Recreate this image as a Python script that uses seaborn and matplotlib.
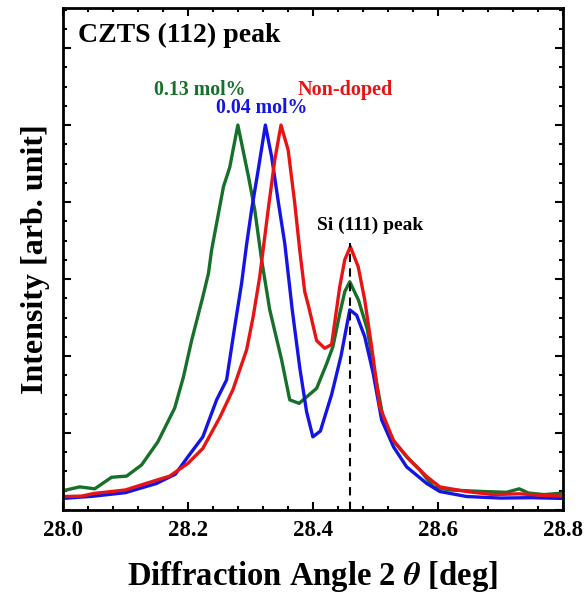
import numpy as np
import pandas as pd
import matplotlib
matplotlib.use("Agg")
import matplotlib.pyplot as plt
from matplotlib.ticker import MultipleLocator
import seaborn as sns

# values (normalised intensity)
x_013 = [28.000, 28.027, 28.051, 28.078, 28.102, 28.126, 28.152, 28.179, 28.193, 28.206,
         28.224, 28.233, 28.238, 28.257, 28.267, 28.280, 28.297, 28.307, 28.318, 28.331,
         28.350, 28.363, 28.378, 28.406, 28.422, 28.432, 28.443, 28.451, 28.459, 28.473,
         28.487, 28.499, 28.513, 28.529, 28.550, 28.571, 28.593, 28.619, 28.672, 28.710,
         28.730, 28.745, 28.770, 28.800]
y_013 = [0.050, 0.060, 0.055, 0.085, 0.088, 0.117, 0.177, 0.265, 0.346, 0.440,
         0.554, 0.615, 0.675, 0.840, 0.890, 1.000, 0.866, 0.780, 0.650, 0.520,
         0.390, 0.286, 0.277, 0.316, 0.380, 0.424, 0.510, 0.567, 0.593, 0.545,
         0.470, 0.355, 0.234, 0.180, 0.138, 0.104, 0.060, 0.052, 0.048, 0.046,
         0.055, 0.044, 0.040, 0.044]

x_004 = [28.000, 28.050, 28.100, 28.150, 28.180, 28.200, 28.224, 28.246, 28.262, 28.275,
         28.286, 28.294, 28.302, 28.3125, 28.324, 28.334, 28.345, 28.355, 28.367, 28.379,
         28.390, 28.400, 28.412, 28.430, 28.445, 28.459, 28.470, 28.483, 28.4965, 28.510,
         28.529, 28.550, 28.582, 28.603, 28.646, 28.700, 28.750, 28.800]
y_004 = [0.030, 0.036, 0.045, 0.069, 0.093, 0.138, 0.190, 0.286, 0.338, 0.476,
         0.589, 0.690, 0.780, 0.883, 1.000, 0.918, 0.797, 0.693, 0.520, 0.370,
         0.255, 0.190, 0.205, 0.300, 0.400, 0.520, 0.506, 0.450, 0.355, 0.234,
         0.164, 0.112, 0.069, 0.048, 0.035, 0.031, 0.032, 0.030]

x_non = [28.000, 28.030, 28.050, 28.100, 28.145, 28.171, 28.200, 28.224, 28.251, 28.272,
         28.294, 28.3045, 28.315, 28.3285, 28.339, 28.349, 28.3605, 28.371, 28.379, 28.387,
         28.393, 28.406, 28.419, 28.430, 28.443, 28.451, 28.460, 28.4725, 28.483, 28.494,
         28.507, 28.529, 28.555, 28.582, 28.603, 28.646, 28.688, 28.730, 28.770, 28.800]
y_non = [0.035, 0.036, 0.043, 0.052, 0.075, 0.088, 0.121, 0.160, 0.240, 0.312,
         0.416, 0.502, 0.606, 0.780, 0.909, 1.000, 0.935, 0.797, 0.675, 0.567,
         0.530, 0.440, 0.420, 0.430, 0.580, 0.650, 0.684, 0.632, 0.545, 0.424,
         0.268, 0.180, 0.130, 0.087, 0.060, 0.048, 0.040, 0.042, 0.038, 0.036]

labels = ["0.13 mol%", "0.04 mol%", "Non-doped"]
colors = ["#17702a", "#1414e6", "#e81414"]
si_pos = 28.459
si_top = 0.694

df = pd.concat([
    pd.DataFrame({"angle": x_013, "intensity": y_013, "sample": labels[0]}),
    pd.DataFrame({"angle": x_004, "intensity": y_004, "sample": labels[1]}),
    pd.DataFrame({"angle": x_non, "intensity": y_non, "sample": labels[2]}),
])

sns.set_style("ticks")
plt.rcParams["font.family"] = ["Liberation Serif", "DejaVu Serif"]
plt.rcParams["font.weight"] = "bold"
plt.rcParams["mathtext.fontset"] = "stix"
for key in ["text.color", "axes.labelcolor", "axes.edgecolor", "xtick.color", "ytick.color"]:
    plt.rcParams[key] = "black"

fig = plt.figure(figsize=(5.87, 5.99), dpi=100)
ax = fig.add_axes([0.107, 0.1486, 0.852, 0.838])

sns.lineplot(data=df, x="angle", y="intensity", hue="sample", hue_order=labels,
             palette=colors, sort=False, estimator=None, linewidth=2.4,
             legend=False, ax=ax)
ax.plot([si_pos, si_pos], [0, si_top], color="black", linestyle=(0, (4, 3)), linewidth=1.5)

ax.set_xlim(28.0, 28.8)
ax.set_ylim(0, 1.304)
ax.xaxis.set_major_locator(MultipleLocator(0.2))
ax.xaxis.set_minor_locator(MultipleLocator(0.04))
ax.yaxis.set_major_locator(MultipleLocator(0.2))
ax.yaxis.set_minor_locator(MultipleLocator(0.05))
ax.set_xticklabels([f"{v:.1f}" for v in ax.get_xticks()])
ax.tick_params(axis="both", which="both", direction="in", top=True, right=True, width=1.5)
ax.tick_params(axis="both", which="major", length=6)
ax.tick_params(axis="both", which="minor", length=3)
ax.tick_params(axis="x", labelsize=16.5, pad=7)
ax.tick_params(axis="y", labelleft=False)
for lab in ax.get_xticklabels():
    lab.set_fontweight("bold")
for sp in ax.spines.values():
    sp.set_linewidth(2.0)

ax.set_xlabel("Diffraction Angle 2 $\\theta$ [deg]", fontsize=23.5, fontweight="bold", labelpad=13)
ax.set_ylabel("Intensity [arb. unit]", fontsize=23, fontweight="bold", labelpad=6)

ax.text(0.03, 0.97, "CZTS (112) peak", transform=ax.transAxes, fontsize=20,
        fontweight="bold", ha="left", va="top")
ax.text(28.219, 1.09, labels[0], color=colors[0], fontsize=14.3, fontweight="bold", ha="center", va="center")
ax.text(28.318, 1.045, labels[1], color=colors[1], fontsize=14.3, fontweight="bold", ha="center", va="center")
ax.text(28.451, 1.09, labels[2], color=colors[2], fontsize=14.5, fontweight="bold", ha="center", va="center")
ax.text(28.491, 0.74, "Si (111) peak", color="black", fontsize=14, fontweight="bold", ha="center", va="center")

fig.savefig("out.png", dpi=100)
